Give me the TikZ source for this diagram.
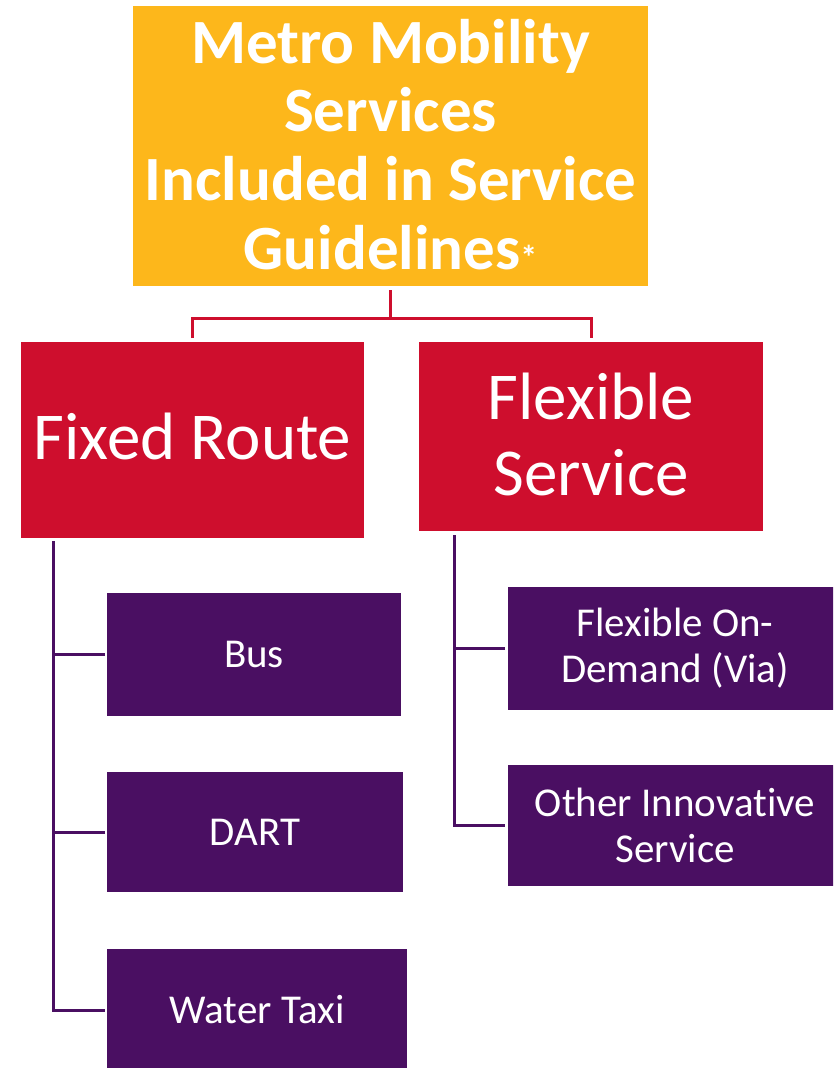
\documentclass[tikz,border=0pt]{standalone}
\usepackage{fontspec}
\setmainfont{Carlito}[Ligatures=NoCommon]
\definecolor{myyellow}{HTML}{FDB71B}
\definecolor{myred}{HTML}{CE0E2D}
\definecolor{mypurple}{HTML}{4A0F62}
\begin{document}
\begin{tikzpicture}[x=1pt,y=-1pt,
  boxbase/.style={rectangle,inner sep=0pt,outer sep=0pt,align=center,text=white},
  topbox/.style={boxbase,fill=myyellow,font=\bfseries\fontsize{63}{68.7}\selectfont},
  redbox/.style={boxbase,fill=myred,font=\fontsize{67}{76}\selectfont},
  purpbox/.style={boxbase,fill=mypurple,font=\fontsize{41}{46}\selectfont},
  redline/.style={draw=myred,line width=3pt},
  purpline/.style={draw=mypurple,line width=3pt}]
\useasboundingbox (0,0) rectangle (833,1068);
\clip (0,0) rectangle (833,1068);
% top
\node[topbox,minimum width=515pt,minimum height=280pt] (top) at (390.5,146)
  {Metro Mobility\\Services\\Included in Service\\Guidelines{\fontsize{34}{34}\selectfont*}\rule{0pt}{0pt}\raisebox{0pt}[0pt][4pt]{}};
% level 2
\node[redbox,minimum width=343pt,minimum height=196pt] (fixed) at (192.5,440) {Fixed Route\raisebox{0pt}[0pt][8pt]{}};
\node[redbox,minimum width=344pt,minimum height=189pt] (flex) at (591,436.5) {Flexible\\Service\raisebox{0pt}[0pt][4pt]{}};
% level 3
\node[purpbox,minimum width=294pt,minimum height=123pt] (bus) at (254,654.5) {Bus};
\node[purpbox,minimum width=296pt,minimum height=120pt] (dart) at (255,832) {DART};
\node[purpbox,minimum width=300pt,minimum height=122pt] (water) at (257,1010) {Water Taxi};
\node[purpbox,minimum width=334pt,minimum height=123pt] (flexod) at (675,648.5) {Flexible On-\\Demand (Via)};
\node[purpbox,minimum width=334pt,minimum height=121pt] (other) at (675,825.5) {Other Innovative\\Service};
% red connectors
\coordinate (jr) at ([yshift=-32pt]top.south);
\draw[redline] ([yshift=-4pt]top.south) -- (jr);
\draw[redline] ([yshift=4pt]fixed.north) |- (jr) -| ([yshift=4pt]flex.north);
% purple connectors (fixed route)
\coordinate (fx) at ([xshift=32pt,yshift=-3pt]fixed.south west);
\draw[purpline] (fx) |- ([xshift=-2pt]water.west);
\draw[purpline] ([xshift=-2pt]bus.west) -- (bus.west -| fx);
\draw[purpline] ([xshift=-2pt]dart.west) -- (dart.west -| fx);
% purple connectors (flexible)
\coordinate (fy) at ([xshift=35pt,yshift=-4pt]flex.south west);
\draw[purpline] (fy) |- ([xshift=-3pt]other.west);
\draw[purpline] ([xshift=-3pt]flexod.west) -- (flexod.west -| fy);
\end{tikzpicture}
\end{document}
